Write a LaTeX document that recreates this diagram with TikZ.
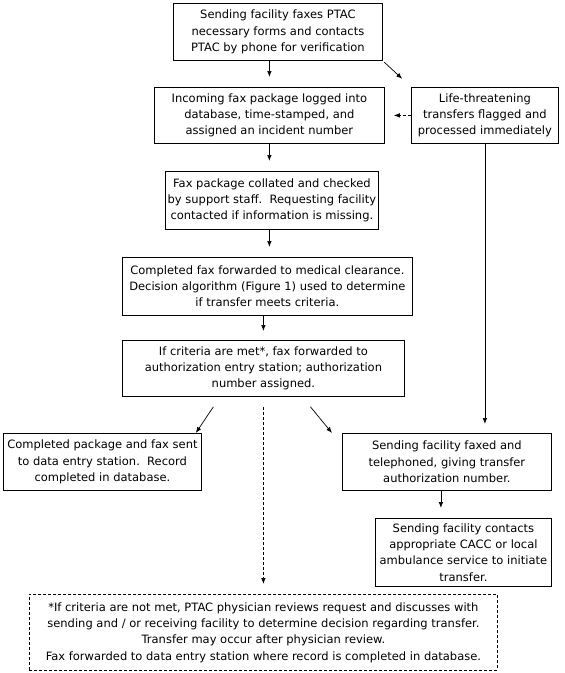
\documentclass[tikz,border=0pt]{standalone}
\usepackage{fontspec}
\setmainfont{DejaVu Sans}
\usetikzlibrary{arrows.meta,calc}
\begin{document}
\begin{tikzpicture}[x=1pt,y=-1pt,
  box/.style={draw, line width=0.8pt, inner sep=0pt, align=center, anchor=north west,
    font=\fontsize{11.5}{16.3}\selectfont},
  arr/.style={line width=0.7pt, -{Latex[length=6pt,width=4.5pt]}},
  dsh/.style={dash pattern=on 3pt off 2pt}]
\useasboundingbox (0,0) rectangle (565,673);
\node[box, minimum width=209pt, minimum height=57pt] (A) at (173,3)
  {Sending facility faxes PTAC\\necessary forms and contacts\\PTAC by phone for verification};
\node[box, minimum width=230pt, minimum height=56pt] (B) at (154,87)
  {Incoming fax package logged into\\database, time-stamped, and\\assigned an incident number};
\node[box, minimum width=147pt, minimum height=56pt] (L) at (411,87)
  {Life-threatening\\transfers flagged and\\processed immediately};
\node[box, minimum width=213pt, minimum height=58pt] (C) at (165,171)
  {Fax package collated and checked\\by support staff.\ \ Requesting facility\\contacted if information is missing.};
\node[box, minimum width=290pt, minimum height=58pt] (D) at (122,257)
  {Completed fax forwarded to medical clearance.\\Decision algorithm (Figure 1) used to determine\\if transfer meets criteria.};
\node[box, minimum width=282pt, minimum height=56pt] (E) at (122,340)
  {If criteria are met*, fax forwarded to\\authorization entry station; authorization\\number assigned.};
\node[box, minimum width=198pt, minimum height=57pt] (F) at (3,433)
  {Completed package and fax sent\\to data entry station.\ \ Record\\completed in database.};
\node[box, minimum width=209pt, minimum height=57pt] (G) at (342,433)
  {Sending facility faxed and\\telephoned, giving transfer\\authorization number.};
\node[box, minimum width=176pt, minimum height=68pt] (H) at (375,518)
  {Sending facility contacts\\appropriate CACC or local\\ambulance service to initiate\\transfer.};
\node[box, dsh, minimum width=468pt, minimum height=76pt] (I) at (29,594)
  {*If criteria are not met, PTAC physician reviews request and discusses with\\sending and / or receiving facility to determine decision regarding transfer.\\Transfer may occur after physician review.\\Fax forwarded to data entry station where record is completed in database.};
% connectors
\draw[arr, shorten >=10pt] (A.south -| B.north) -- (B.north);
\draw[arr, shorten <=2pt, shorten >=12pt] (A.south east) -- (L.north west);
\draw[arr, dsh, shorten >=9pt] (L.west) -- (L.west -| B.east);
\draw[arr, shorten >=10pt] (B.south) -- (B.south |- C.north);
\draw[arr, shorten >=10pt] (B.south |- C.south) -- (B.south |- D.north);
\draw[arr, shorten >=9pt] (E.north |- D.south) -- (E.north);
\draw[arr] ([shift={(-50,10)}]E.south) -- ([shift={(-6,0)}]F.north east);
\draw[arr, dsh, shorten <=10pt, shorten >=10pt] (E.south) -- (E.south |- I.north);
\draw[arr] ([shift={(47,10)}]E.south) -- ([shift={(-10,0)}]G.north west);
\draw[arr, shorten >=9pt] (L.south) -- (L.south |- G.north);
\draw[arr, shorten >=10pt] ([xshift=-6pt]G.south) -- ([xshift=-6pt]G.south |- H.north);
\end{tikzpicture}
\end{document}
